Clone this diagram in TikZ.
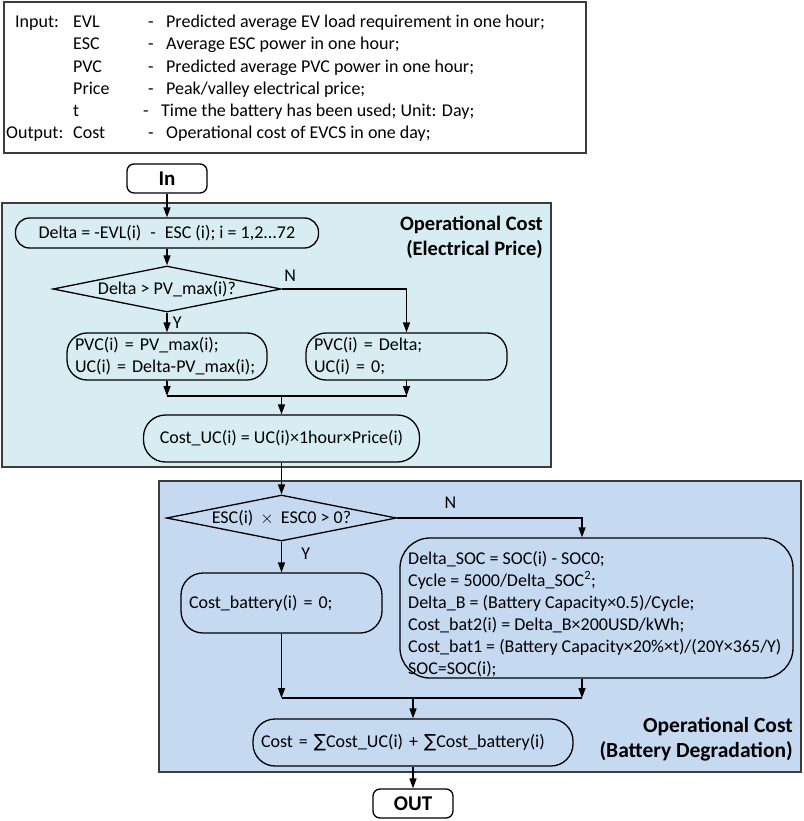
\documentclass[tikz,border=0pt]{standalone}
\usepackage{fontspec}
\setmainfont{Carlito}
\newfontfamily\symfont{DejaVu Sans}
\usetikzlibrary{shapes.geometric, arrows.meta, positioning}

\definecolor{priceblue}{RGB}{216,237,243}
\definecolor{batblue}{RGB}{197,217,241}
\definecolor{framegray}{RGB}{60,60,60}

\tikzset{
    proc/.style={draw, rounded corners=#1, line width=1.3pt,
        font=\fontsize{18}{22}\selectfont, inner xsep=8pt, inner ysep=0pt},
    proc/.default=20pt,
    term/.style={draw, fill=white, rounded corners=7pt, line width=1.3pt,
        font=\fontsize{21}{25}\selectfont\bfseries,
        minimum width=80pt, minimum height=29pt, inner sep=0pt},
    decision/.style={draw, diamond, line width=1.3pt, inner sep=0pt,
        font=\fontsize{18}{22}\selectfont},
    arr/.style={-{Triangle[length=10pt,width=7pt]}, line width=1.5pt},
    lbl/.style={font=\fontsize{18}{22}\selectfont, inner sep=1pt},
    title/.style={font=\fontsize{#1}{25}\selectfont\bfseries, align=right,
        inner sep=0pt, anchor=east},
    panel/.style={draw=framegray, line width=1.6pt},
    infotxt/.style={font=\fontsize{18}{22}\selectfont, anchor=base west,
        inner sep=0pt}
}

\begin{document}
\begin{tikzpicture}[x=1pt, y=-1pt]
    \useasboundingbox (0,0) rectangle (803,821);

    \node[draw=framegray, line width=1.6pt, minimum width=582pt,
        minimum height=151pt, anchor=north west, inner sep=0pt] (info) at (3,1.5) {};
    \node[infotxt] (input) at (15,28) {Input:};
    \node[infotxt] (output) at (6,139) {Output:};
    \foreach \i/\y/\key in {1/28/EVL, 2/50/ESC, 3/72.5/PVC, 4/95/Price, 5/117/t, 6/139/Cost}
        \node[infotxt] (key\i) at (73,\y) {\key};
    \foreach \i/\y/\dx/\desc in {
        1/28/148/{Predicted average EV load requirement in one hour;},
        2/50/148/{Average ESC power in one hour;},
        3/72.5/148/{Predicted average PVC power in one hour;},
        4/95/148/{Peak/valley electrical price;},
        5/117/143/{Time the battery has been used; Unit: Day;},
        6/139/148/{Operational cost of EVCS in one day;}}
        \node[infotxt] (desc\i) at (\dx,\y) {\makebox[18pt][l]{-}\desc};

    \draw[panel, fill=priceblue] (2,203) rectangle (551,467);
    \draw[panel, fill=batblue] (159,481) rectangle (801,772);
    \node[title=20.5] (pricetitle) at (543,237) {Operational Cost\\(Electrical Price)};
    \node[title=21.5] (battitle) at (793,739) {Operational Cost\\(Battery Degradation)};

    \node[term] (in) at (167,178.5) {In};
    \node[proc=14pt, minimum width=303pt, minimum height=30pt] (delta) at (167,233)
        {Delta = -EVL(i)\enspace-\enspace ESC (i); i = 1,2...72};
    \node[decision, minimum width=228pt, minimum height=46pt] (pvcheck) at (167,289)
        {\makebox[0pt]{Delta > PV\_max(i)?}};
    \node[proc, text width=184pt, align=left, minimum height=47pt] (pvmax) at (167,356.5)
        {PVC(i) = PV\_max(i);\\UC(i) = Delta-PV\_max(i);};
    \node[proc, text width=185pt, align=left, minimum height=47pt] (pvdelta) at (406.5,356.5)
        {PVC(i) = Delta;\\UC(i) = 0;};
    \node[proc=22pt, minimum width=276pt, minimum height=47pt] (costuc) at (281.5,438.5)
        {Cost\_UC(i) = UC(i)×1hour×Price(i)};

    \node[decision, minimum width=230pt, minimum height=46pt] (esccheck) at (281.5,518)
        {\makebox[0pt]{ESC(i) \,$\times$\, ESC0 > 0?}};
    \node[proc=22pt, text width=185pt, align=left, minimum height=60pt] (batzero) at (281.5,603)
        {Cost\_battery(i) = 0;};
    \node[proc=30pt, minimum width=393pt, minimum height=140pt] (batcalc) at (596.5,608) {};
    \node[infotxt, align=left] (batlines) at (408,674)
        {Delta\_SOC = SOC(i) - SOC0;\\
         Cycle = 5000/Delta\_SOC\textsuperscript{2};\\
         Delta\_B = (Battery Capacity×0.5)/Cycle;\\
         Cost\_bat2(i) = Delta\_B×200USD/kWh;\\
         Cost\_bat1 = (Battery Capacity×20\%×t)/(20Y×365/Y)\\
         SOC=SOC(i);};
    \node[proc=22pt, text width=304pt, align=left, minimum height=47pt] (cost) at (413,742.5)
        {Cost = {\symfont ∑}Cost\_UC(i) + {\symfont ∑}Cost\_battery(i)};
    \node[term] (out) at (413,803.5) {OUT};

    \coordinate (m1) at (167,396);
    \coordinate (m2) at (406.5,396);
    \coordinate (m3) at (281.5,698);
    \coordinate (m4) at (582,698);

    \draw[arr] (in) -- (delta);
    \draw[arr] (delta) -- (pvcheck);
    \draw[arr] (pvcheck) -- node[lbl, right=4pt] (yes1) {Y} (pvmax);
    \draw[arr] (pvcheck.east) node[lbl, above right=6pt and 1pt] (no1) {N} -| (pvdelta.north);
    \draw[arr] (pvmax) -- (m1);
    \draw[arr] (pvdelta) -- (m2);
    \draw[line width=1.5pt] (m1) -- (m2);
    \draw[arr] (costuc.north |- m1) -- (costuc);
    \draw[arr] (costuc) -- (esccheck);
    \draw[arr] (esccheck) -- node[lbl, right=18pt, pos=0.4] (yes2) {Y} (batzero);
    \draw[arr] (esccheck.east) -| node[lbl, above=8pt, pos=0.144] (no2) {N} (batcalc.north -| m4);
    \draw[arr] (batzero) -- (m3);
    \draw[arr] (batcalc.south -| m4) -- (m4);
    \draw[line width=1.5pt] (m3) -- (m4);
    \draw[arr] (cost.north |- m3) -- (cost);
    \draw[arr] (cost) -- (out);
\end{tikzpicture}
\end{document}
